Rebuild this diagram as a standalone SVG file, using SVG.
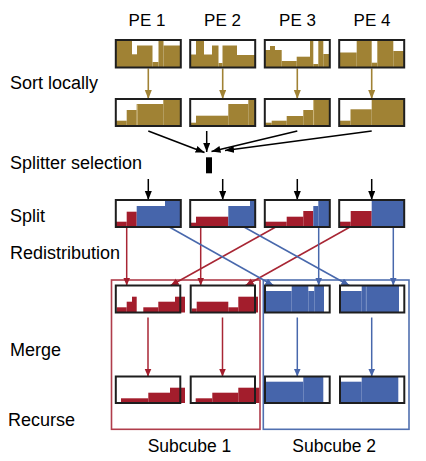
<svg xmlns="http://www.w3.org/2000/svg" width="426" height="461" viewBox="0 0 426 461">
<style>
text{font-family:"Liberation Sans",Arial,sans-serif;fill:#000}
.lab{font-size:18px}
.pe{font-size:17px;text-anchor:middle}
.sc{font-size:17.5px;text-anchor:middle}
.box{fill:none;stroke:#1e1e1e;stroke-width:2}
.g{fill:#A08234}
.r{fill:#A31D2C}
.b{fill:#4665AB}
.sep{stroke:#D2BE84;stroke-width:0.8}
.sepb{stroke:#8FA3D0;stroke-width:0.8}
.cg{stroke:#A08234;stroke-width:1.6;fill:none}
.ck{stroke:#000;stroke-width:1.5;fill:none}
.cr{stroke:#A82634;stroke-width:1.5;fill:none}
.cb{stroke:#4868AC;stroke-width:1.5;fill:none}
</style>
<defs>
<marker id="ag" markerUnits="userSpaceOnUse" markerWidth="10" markerHeight="8" refX="9" refY="3.5" orient="auto"><path d="M0,0 L9,3.5 L0,7 z" fill="#A08234"/></marker>
<marker id="ak" markerUnits="userSpaceOnUse" markerWidth="10" markerHeight="8" refX="9" refY="3.5" orient="auto"><path d="M0,0 L9,3.5 L0,7 z" fill="#000"/></marker>
<marker id="ar" markerUnits="userSpaceOnUse" markerWidth="10" markerHeight="8" refX="8" refY="3.5" orient="auto"><path d="M0,0 L8,3.5 L0,7 z" fill="#A31D2C"/></marker>
<marker id="ab" markerUnits="userSpaceOnUse" markerWidth="10" markerHeight="8" refX="8" refY="3.5" orient="auto"><path d="M0,0 L8,3.5 L0,7 z" fill="#4665AB"/></marker>
</defs>
<rect width="426" height="461" fill="#fff"/>

<g id="labels">
<text class="lab" x="10" y="89">Sort locally</text>
<text class="lab" x="10" y="169">Splitter selection</text>
<text class="lab" x="10" y="222">Split</text>
<text class="lab" x="10" y="259">Redistribution</text>
<text class="lab" x="10" y="356">Merge</text>
<text class="lab" x="8" y="426">Recurse</text>
<text class="pe" x="147" y="26">PE 1</text>
<text class="pe" x="222.5" y="26">PE 2</text>
<text class="pe" x="297.5" y="26">PE 3</text>
<text class="pe" x="372" y="26">PE 4</text>
</g>

<g id="subcube1">
<rect x="111.5" y="280" width="148.5" height="149.3" fill="none" stroke="#B03D4B" stroke-width="1.6"/>
<text class="sc" x="189.5" y="452">Subcube 1</text>
</g>
<g id="subcube2">
<rect x="263.3" y="280" width="145.7" height="149.3" fill="none" stroke="#5170B0" stroke-width="1.6"/>
<text class="sc" x="334.2" y="452">Subcube 2</text>
</g>

<g id="connectors">
<line class="cg" x1="148.3" y1="68.5" x2="148.3" y2="99" marker-end="url(#ag)"/>
<line class="cg" x1="222.7" y1="68.5" x2="222.7" y2="99" marker-end="url(#ag)"/>
<line class="cg" x1="297.3" y1="68.5" x2="297.3" y2="99" marker-end="url(#ag)"/>
<line class="cg" x1="371.7" y1="68.5" x2="371.7" y2="99" marker-end="url(#ag)"/>
<line class="ck" x1="148.3" y1="131" x2="204.5" y2="152.5" marker-end="url(#ak)"/>
<line class="ck" x1="206.7" y1="131" x2="206.7" y2="152" marker-end="url(#ak)"/>
<line class="ck" x1="297.3" y1="131" x2="211.5" y2="151.5" marker-end="url(#ak)"/>
<line class="ck" x1="371.7" y1="131" x2="225" y2="150.5" marker-end="url(#ak)"/>
<line class="ck" x1="148.3" y1="179" x2="148.3" y2="200" marker-end="url(#ak)"/>
<line class="ck" x1="222.7" y1="179" x2="222.7" y2="200" marker-end="url(#ak)"/>
<line class="ck" x1="297.3" y1="179" x2="297.3" y2="200" marker-end="url(#ak)"/>
<line class="ck" x1="371.7" y1="179" x2="371.7" y2="200" marker-end="url(#ak)"/>
<line class="cr" x1="126.7" y1="227" x2="126.7" y2="285.5" marker-end="url(#ar)"/>
<line class="cr" x1="200.7" y1="227" x2="200.7" y2="285.5" marker-end="url(#ar)"/>
<line class="cr" x1="275.7" y1="227" x2="170.7" y2="285.5" marker-end="url(#ar)"/>
<line class="cr" x1="350" y1="227" x2="245.7" y2="285.5" marker-end="url(#ar)"/>
<line class="cb" x1="169.3" y1="227" x2="273.3" y2="285.5" marker-end="url(#ab)"/>
<line class="cb" x1="244" y1="227" x2="349.3" y2="285.5" marker-end="url(#ab)"/>
<line class="cb" x1="318.7" y1="227" x2="318.7" y2="285.5" marker-end="url(#ab)"/>
<line class="cb" x1="393.3" y1="227" x2="393.3" y2="285.5" marker-end="url(#ab)"/>
<line class="cr" x1="148" y1="317.5" x2="148" y2="376.5" marker-end="url(#ar)"/>
<line class="cr" x1="222.5" y1="317.5" x2="222.5" y2="376.5" marker-end="url(#ar)"/>
<line class="cb" x1="297.3" y1="317.5" x2="297.3" y2="376.5" marker-end="url(#ab)"/>
<line class="cb" x1="371.7" y1="317.5" x2="371.7" y2="376.5" marker-end="url(#ab)"/>
</g>

<g id="splitter">
<rect x="206" y="157.3" width="6" height="16" fill="#000"/>
</g>

<!-- Row 1: unsorted -->
<g id="pe1-data">
<rect class="g" x="116" y="40" width="16" height="27.5"/>
<rect class="g" x="132" y="54.3" width="5" height="13.2"/>
<rect class="g" x="137" y="45.5" width="15.5" height="22"/>
<rect class="g" x="152.5" y="62" width="6" height="5.5"/>
<rect class="g" x="158.5" y="40" width="5" height="27.5"/>
<rect class="g" x="163.5" y="45.5" width="17" height="22"/>
<rect class="box" x="115.8" y="40" width="65" height="27.5"/>
</g>
<g id="pe2-data">
<rect class="g" x="190.5" y="54.5" width="5.5" height="13"/>
<rect class="g" x="196" y="40" width="8" height="27.5"/>
<rect class="g" x="204" y="54.5" width="8" height="13"/>
<rect class="g" x="212" y="45.5" width="6.5" height="22"/>
<rect class="g" x="218.5" y="63" width="4" height="4.5"/>
<rect class="g" x="222.5" y="45.5" width="14.5" height="22"/>
<rect class="g" x="237" y="55" width="18" height="12.5"/>
<rect class="box" x="190.2" y="40" width="65" height="27.5"/>
</g>
<g id="pe3-data">
<rect class="g" x="265" y="50" width="5" height="17.5"/>
<rect class="g" x="270" y="46" width="5" height="21.5"/>
<rect class="g" x="275" y="50" width="6.7" height="17.5"/>
<rect class="g" x="281.7" y="61" width="15" height="6.5"/>
<rect class="g" x="296.7" y="56.7" width="13.3" height="10.8"/>
<rect class="g" x="310" y="40" width="3.3" height="27.5"/>
<rect class="g" x="313.3" y="64" width="5" height="3.5"/>
<rect class="g" x="318.3" y="40" width="5" height="27.5"/>
<rect class="g" x="323.3" y="54" width="6.5" height="13.5"/>
<rect class="box" x="264.8" y="40" width="65" height="27.5"/>
</g>
<g id="pe4-data">
<rect class="g" x="339.5" y="52.5" width="17.2" height="15"/>
<rect class="g" x="356.7" y="40" width="15" height="27.5"/>
<rect class="g" x="371.7" y="62.7" width="5.6" height="4.8"/>
<rect class="g" x="377.3" y="40" width="16" height="27.5"/>
<rect class="g" x="393.3" y="51" width="10.9" height="16.5"/>
<rect class="box" x="339.2" y="40" width="65" height="27.5"/>
</g>

<!-- Row 2: sorted -->
<g id="pe1-sorted">
<rect class="g" x="116" y="120.7" width="10.7" height="5.3"/>
<rect class="g" x="126.7" y="110" width="10" height="16"/>
<rect class="g" x="136.7" y="104" width="26.6" height="22"/>
<rect class="g" x="163.3" y="99" width="17.5" height="27"/>
<line class="sep" x1="137.3" y1="104.5" x2="137.3" y2="125"/>
<rect class="box" x="115.8" y="99" width="65" height="27"/>
</g>
<g id="pe2-sorted">
<rect class="g" x="190.5" y="122.7" width="5.5" height="3.3"/>
<rect class="g" x="196" y="115.7" width="32.3" height="10.3"/>
<rect class="g" x="228.3" y="104" width="20" height="22"/>
<rect class="g" x="248.3" y="99" width="7" height="27"/>
<rect class="box" x="190.2" y="99" width="65" height="27"/>
</g>
<g id="pe3-sorted">
<rect class="g" x="265" y="122.7" width="6.7" height="3.3"/>
<rect class="g" x="271.7" y="120.7" width="15" height="5.3"/>
<rect class="g" x="286.7" y="116" width="16.6" height="10"/>
<rect class="g" x="303.3" y="110" width="10" height="16"/>
<rect class="g" x="313.3" y="99" width="16.5" height="27"/>
<line class="sep" x1="313.6" y1="100" x2="313.6" y2="125"/>
<rect class="box" x="264.8" y="99" width="65" height="27"/>
</g>
<g id="pe4-sorted">
<rect class="g" x="339.5" y="120.7" width="11" height="5.3"/>
<rect class="g" x="350.5" y="109.3" width="21.2" height="16.7"/>
<rect class="g" x="371.7" y="99" width="32.5" height="27"/>
<rect class="box" x="339.2" y="99" width="65" height="27"/>
</g>

<!-- Row 3: split -->
<g id="pe1-split">
<rect class="r" x="116" y="221.7" width="10.7" height="5.3"/>
<rect class="r" x="126.7" y="211.7" width="10" height="15.3"/>
<rect class="b" x="136.7" y="206" width="28.3" height="21"/>
<rect class="b" x="165" y="200" width="15.8" height="27"/>
<rect class="box" x="115.8" y="200" width="65" height="27"/>
</g>
<g id="pe2-split">
<rect class="r" x="190.5" y="222.7" width="5.5" height="4.3"/>
<rect class="r" x="196" y="216.7" width="32.3" height="10.3"/>
<rect class="b" x="228.3" y="206" width="21.7" height="21"/>
<rect class="b" x="250" y="200" width="5.2" height="27"/>
<rect class="box" x="190.2" y="200" width="65" height="27"/>
</g>
<g id="pe3-split">
<rect class="r" x="265" y="221.7" width="21.7" height="5.3"/>
<rect class="r" x="286.7" y="216.7" width="16.6" height="10.3"/>
<rect class="r" x="303.3" y="211" width="10" height="16"/>
<rect class="b" x="313.3" y="206" width="5" height="21"/>
<rect class="b" x="318.3" y="200" width="11.5" height="27"/>
<rect class="box" x="264.8" y="200" width="65" height="27"/>
</g>
<g id="pe4-split">
<rect class="r" x="339.5" y="221.7" width="11.2" height="5.3"/>
<rect class="r" x="350.7" y="211" width="21" height="16"/>
<rect class="b" x="371.7" y="200" width="32.5" height="27"/>
<rect class="box" x="339.2" y="200" width="65" height="27"/>
</g>

<!-- Row 4: merge input -->
<g id="pe1-merge">
<rect class="r" x="116.7" y="307.3" width="10" height="5.2"/>
<rect class="r" x="126.7" y="301.7" width="5.3" height="10.8"/>
<rect class="r" x="132" y="296.7" width="4.7" height="15.8"/>
<rect class="r" x="143.3" y="307.3" width="15" height="5.2"/>
<rect class="r" x="158.3" y="301.7" width="16.7" height="10.8"/>
<rect class="r" x="175" y="296.7" width="10" height="15.8"/>
<rect class="box" x="115.8" y="285.5" width="64.5" height="27"/>
</g>
<g id="pe2-merge">
<rect class="r" x="191.7" y="308.5" width="5" height="4"/>
<rect class="r" x="196.7" y="301.7" width="31.6" height="10.8"/>
<rect class="r" x="228.3" y="307.3" width="10" height="5.2"/>
<rect class="r" x="238.3" y="296.7" width="19.7" height="15.8"/>
<rect class="box" x="190.7" y="285.5" width="64.3" height="27"/>
</g>
<g id="pe3-merge">
<rect class="b" x="264.5" y="291" width="27.2" height="21.5"/>
<rect class="b" x="291.7" y="285.5" width="16.6" height="27"/>
<rect class="b" x="308.3" y="291" width="6" height="21.5"/>
<rect class="b" x="314.3" y="285.5" width="9.7" height="27"/>
<rect class="box" x="265" y="285.5" width="64.7" height="27"/>
</g>
<g id="pe4-merge">
<rect class="b" x="341" y="291" width="20.7" height="21.5"/>
<rect class="b" x="361.7" y="285.5" width="37.3" height="27"/>
<line class="sepb" x1="366.3" y1="286.5" x2="366.3" y2="311.5"/>
<rect class="box" x="340" y="285.5" width="64.3" height="27"/>
</g>

<!-- Row 5: merged -->
<g id="pe1-merged">
<rect class="r" x="121" y="398.3" width="27.3" height="4.7"/>
<rect class="r" x="148.3" y="392.7" width="21.7" height="10.3"/>
<rect class="r" x="170" y="387.7" width="15" height="15.3"/>
<rect class="box" x="115.8" y="376.5" width="64.5" height="26.5"/>
</g>
<g id="pe2-merged">
<rect class="r" x="195.7" y="398.3" width="16.6" height="4.7"/>
<rect class="r" x="212.3" y="392.7" width="26" height="10.3"/>
<rect class="r" x="238.3" y="387.7" width="21" height="15.3"/>
<rect class="box" x="190.7" y="376.5" width="64.3" height="26.5"/>
</g>
<g id="pe3-merged">
<rect class="b" x="264.3" y="381.7" width="39" height="21.3"/>
<rect class="b" x="303.3" y="376.5" width="20" height="26.5"/>
<rect class="box" x="265" y="376.5" width="64.7" height="26.5"/>
</g>
<g id="pe4-merged">
<rect class="b" x="341" y="381.7" width="20.7" height="21.3"/>
<rect class="b" x="361.7" y="376.5" width="36.6" height="26.5"/>
<rect class="box" x="340" y="376.5" width="64.3" height="26.5"/>
</g>
</svg>
